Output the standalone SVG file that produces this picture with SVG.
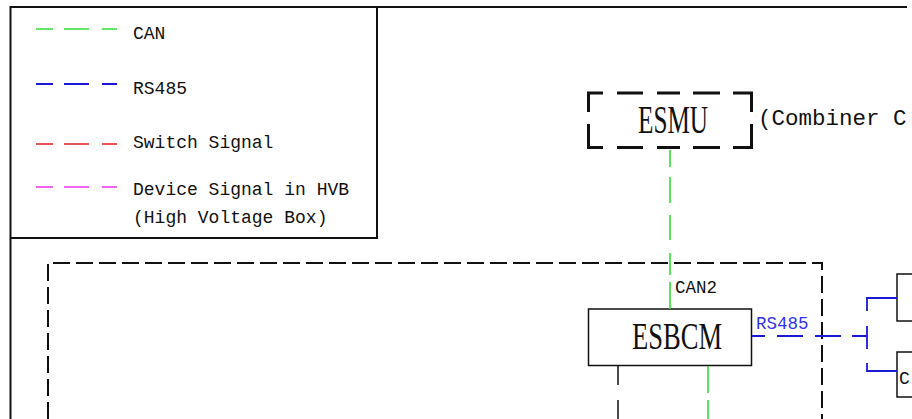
<svg xmlns="http://www.w3.org/2000/svg" width="912" height="419" viewBox="0 0 912 419">
<style>
.mono{font-family:"Liberation Mono","DejaVu Sans Mono",monospace;fill:#111}
.big{font-family:"Liberation Serif","DejaVu Serif",serif;fill:#111}
.frame{fill:none;stroke:#111;stroke-width:2}
.thin{fill:none;stroke:#111;stroke-width:1.5}
.can{fill:none;stroke:#33dd33;stroke-width:1.6}
.rs{fill:none;stroke:#1a1ad6;stroke-width:1.8}
.sw{fill:none;stroke:#e02020;stroke-width:1.6}
.dev{fill:none;stroke:#ee33ee;stroke-width:1.6}
.esmu{fill:none;stroke:#111;stroke-width:3}
.zone{fill:none;stroke:#111;stroke-width:2;stroke-dasharray:17 6}
</style>
<rect width="912" height="419" fill="#fff"/>
<g id="frame">
<path class="frame" d="M907 7H10.5V419"/>
</g>
<g id="legend">
<path class="frame" d="M10.5 238H377V7"/>
<path class="can" d="M36 29H53M64 29H89M102 29H117"/>
<text class="mono" x="133" y="39" font-size="18">CAN</text>
<path class="rs" d="M36 84H53M64 84H89M102 84H117"/>
<text class="mono" x="133" y="94" font-size="18">RS485</text>
<path class="sw" d="M36 144H53M64 144H89M102 144H117"/>
<text class="mono" x="133" y="148" font-size="18">Switch Signal</text>
<path class="dev" d="M36 187H53M64 187H89M102 187H117"/>
<text class="mono" x="133" y="195" font-size="18">Device Signal in HVB</text>
<text class="mono" x="133" y="223" font-size="18">(High Voltage Box)</text>
</g>
<g id="zone">
<path class="zone" d="M48 419V263H822V419"/>
</g>
<g id="esmu">
<path class="esmu" d="M603 93H588.5V112M617 93H643M657 93H680M693 93H720M733 93H751.5V112M588.5 124V147.5H603M617 147.5H643M657 147.5H680M693 147.5H720M733 147.5H751.5V124"/>
<text class="big" x="638" y="133" font-size="40" textLength="70" lengthAdjust="spacingAndGlyphs">ESMU</text>
<text class="mono" x="758" y="125" font-size="22.5">(Combiner C</text>
</g>
<g id="esbcm">
<rect class="thin" x="588.5" y="309" width="163" height="56.5" fill="#fff"/>
<text class="big" x="632" y="349" font-size="37" textLength="90" lengthAdjust="spacingAndGlyphs">ESBCM</text>
</g>
<g id="device-top">
<path class="thin" d="M912 274H897V321H912"/>
</g>
<g id="device-bottom">
<path class="thin" d="M912 352H897V397H912"/>
<text class="mono" x="899" y="384" font-size="18">C</text>
</g>
<g id="connectors">
<path class="can" d="M670 148V309" stroke-dasharray="0 2 17 10 26 12 25 13 22 7 27"/>
<text class="mono" x="675" y="293" font-size="17.5">CAN2</text>
<path class="rs" d="M752 336H867" stroke-dasharray="13 12 26 12 26 11 15"/>
<text x="756" y="329" font-size="17.5" font-family="Liberation Mono, monospace" fill="#3333ee">RS485</text>
<path class="rs" d="M897 298H867V371H897" stroke-dasharray="43 15 23 14 38"/>
<path class="thin" d="M618 366V419" stroke-dasharray="19 15"/>
<path class="can" d="M708 366V419" stroke-dasharray="27 7"/>
</g>
</svg>
